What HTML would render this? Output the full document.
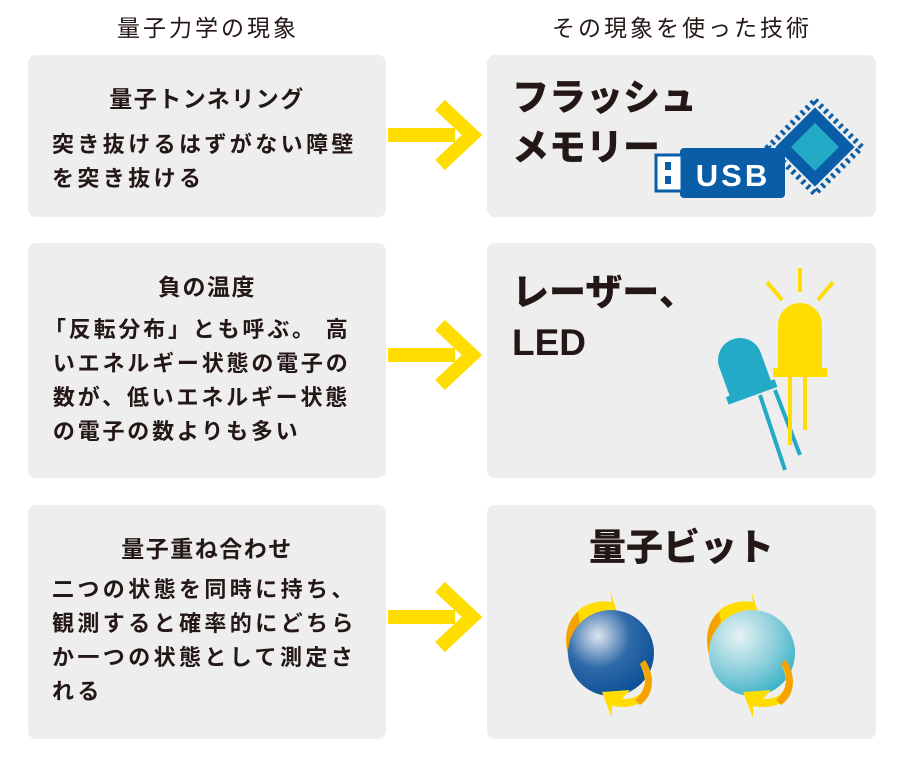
<!DOCTYPE html>
<html><head><meta charset="utf-8"><style>
body{margin:0;width:900px;height:761px;background:#fff;position:relative;overflow:hidden;font-family:"Liberation Sans","Noto Sans CJK JP",sans-serif;color:#231815}
.h{position:absolute;top:9px;font-size:23px;text-align:center;letter-spacing:3px}
.box{position:absolute;background:#eeeeee;border-radius:8px}
.t{position:absolute;font-weight:bold;font-size:23px;text-align:center;width:358px;left:28px;letter-spacing:1.5px}
.p{position:absolute;left:52px;font-size:22px;line-height:34px;font-weight:bold;letter-spacing:3.4px;white-space:nowrap}
.big{position:absolute;font-weight:900;font-size:37px;line-height:50px;left:512px}
svg{position:absolute;left:0;top:0}
</style></head><body>
<div class="h" style="left:98px;width:220px">量子力学の現象</div>
<div class="h" style="left:542px;width:280px">その現象を使った技術</div>
<div class="box" style="left:28px;top:55px;width:358px;height:162px"></div>
<div class="box" style="left:28px;top:243px;width:358px;height:235px"></div>
<div class="box" style="left:28px;top:505px;width:358px;height:234px"></div>
<div class="box" style="left:487px;top:55px;width:389px;height:162px"></div>
<div class="box" style="left:487px;top:243px;width:389px;height:235px"></div>
<div class="box" style="left:487px;top:505px;width:389px;height:234px"></div>
<div class="t" style="top:80px">量子トンネリング</div>
<div class="p" style="top:128px">突き抜けるはずがない障壁<br>を突き抜ける</div>
<div class="t" style="top:268px">負の温度</div>
<div class="p" style="top:313px;left:44px;letter-spacing:2.8px">「反転分布」とも呼ぶ。 高<br>&nbsp;いエネルギー状態の電子の<br>&nbsp;数が、低いエネルギー状態<br>&nbsp;の電子の数よりも多い</div>
<div class="t" style="top:530px">量子重ね合わせ</div>
<div class="p" style="top:573px">二つの状態を同時に持ち、<br>観測すると確率的にどちら<br>か一つの状態として測定さ<br>れる</div>
<div class="big" style="top:73px">フラッシュ<br>メモリー</div>
<div class="big" style="top:268px">レーザー、<br>LED</div>
<div class="big" style="top:523px;left:487px;width:389px;text-align:center">量子ビット</div>
<svg width="900" height="761">
<defs>
<radialGradient id="gb" cx="0.35" cy="0.3" r="0.75"><stop offset="0" stop-color="#dfe6f0"/><stop offset="0.5" stop-color="#2f6aa8"/><stop offset="1" stop-color="#0a4f96"/></radialGradient>
<radialGradient id="gc" cx="0.35" cy="0.3" r="0.75"><stop offset="0" stop-color="#e6f2f4"/><stop offset="0.55" stop-color="#8fd0dc"/><stop offset="1" stop-color="#3bb2c8"/></radialGradient>
<g id="arr"><path d="M388 -7H455V7H388Z" fill="#ffdd00"/><path d="M440 -30L472 0L440 30" fill="none" stroke="#ffdd00" stroke-width="14"/></g>
</defs>
<use href="#arr" y="135"/><use href="#arr" y="355"/><use href="#arr" y="617"/>
<!-- chip -->
<g transform="translate(815,147) rotate(45)">
<rect x="-33" y="-33" width="66" height="66" fill="none" stroke="#0a5ea8" stroke-width="6" stroke-dasharray="3 4"/>
<rect x="-28" y="-28" width="56" height="56" fill="#0a5ea8"/>
<rect x="-17" y="-17" width="34" height="34" fill="#22aac6"/>
</g>
<!-- USB -->
<rect x="680" y="148" width="105" height="50" rx="4" fill="#0a5ea8"/>
<rect x="656" y="155" width="26" height="36" fill="#fff" stroke="#0a5ea8" stroke-width="3"/>
<rect x="665" y="162" width="6" height="8" fill="#0a5ea8"/><rect x="665" y="176" width="6" height="8" fill="#0a5ea8"/>
<text x="733" y="186" font-size="31" font-weight="bold" fill="#fff" text-anchor="middle" font-family="Liberation Sans" letter-spacing="3">USB</text>
<!-- LEDs -->
<g stroke="#22aac6" stroke-width="4"><line x1="760" y1="395" x2="785" y2="470"/><line x1="775" y1="390" x2="800" y2="455"/></g>
<g transform="translate(740,360) rotate(-20)"><path d="M-22 35V0A22 22 0 0 1 22 0V35Z" fill="#22aac6"/><rect x="-26" y="30" width="52" height="8" fill="#22aac6"/></g>
<g stroke="#ffdd00" stroke-width="4"><line x1="790" y1="370" x2="790" y2="445"/><line x1="805" y1="370" x2="805" y2="430"/></g>
<path d="M778 375V325A22 22 0 0 1 822 325V375Z" fill="#ffdd00"/><rect x="773" y="368" width="54" height="9" fill="#ffdd00"/>
<g stroke="#ffdd00" stroke-width="4"><line x1="800" y1="268" x2="800" y2="292"/><line x1="767" y1="282" x2="782" y2="300"/><line x1="833" y1="282" x2="818" y2="300"/></g>
<!-- qubits -->
<g id="q1">
<path d="M568 655 C560 615 585 598 612 602 L610 590 L622 628 L592 630 L603 619 C585 616 574 630 578 655Z" fill="#ffdd00"/>
<path d="M568 655 C563 635 568 620 578 612 L580 622 C574 632 574 645 578 660Z" fill="#f5a300"/>
<circle cx="611" cy="653" r="43" fill="url(#gb)"/>
<path d="M645 660 C662 690 645 712 612 706 L612 718 L602 692 L630 690 L622 699 C640 700 652 688 640 664Z" fill="#ffdd00"/>
<path d="M645 660 C655 675 655 695 640 705 L635 700 C647 690 648 675 640 664Z" fill="#f5a300"/>
</g>
<use href="#q1" x="141" opacity="0"/>
<path d="M709 655 C701 615 726 598 753 602 L751 590 L763 628 L733 630 L744 619 C726 616 715 630 719 655Z" fill="#ffdd00"/>
<path d="M709 655 C704 635 709 620 719 612 L721 622 C715 632 715 645 719 660Z" fill="#f5a300"/>
<circle cx="752" cy="653" r="43" fill="url(#gc)"/>
<path d="M786 660 C803 690 786 712 753 706 L753 718 L743 692 L771 690 L763 699 C781 700 793 688 781 664Z" fill="#ffdd00"/>
<path d="M786 660 C796 675 796 695 781 705 L776 700 C788 690 789 675 781 664Z" fill="#f5a300"/>
</svg>
</body></html>
